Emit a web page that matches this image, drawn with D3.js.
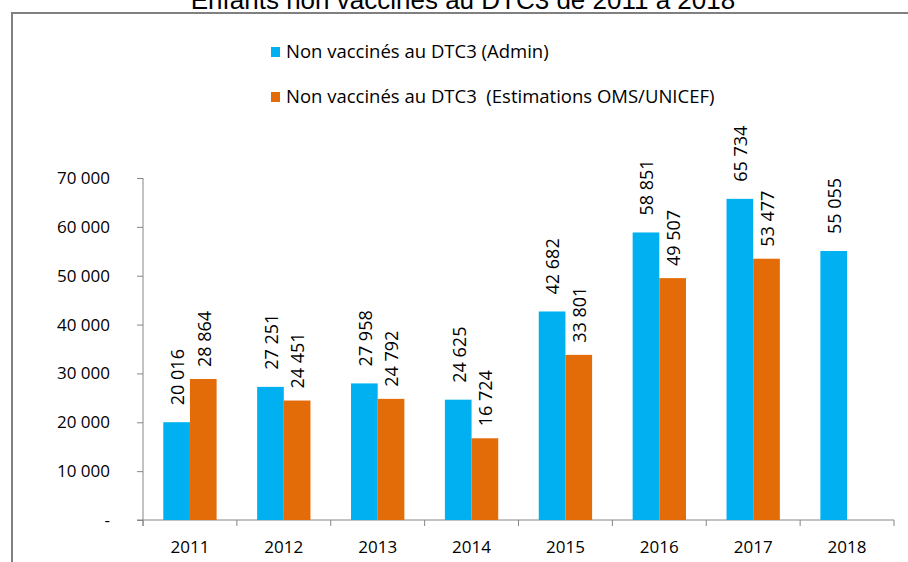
<!DOCTYPE html>
<html>
<head>
<meta charset="utf-8">
<script src="https://cdn.jsdelivr.net/npm/d3@7"></script>
<style>
  body { margin: 0; background: #fff; }
  text { font-family: "Open Sans", sans-serif; }
</style>
</head>
<body>
<div id="vis-container"></div>
<script>
// data
const years = ["2011", "2012", "2013", "2014", "2015", "2016", "2017", "2018"];
const adminValues = [20016, 27251, 27958, 24625, 42682, 58851, 65734, 55055];
const omsValues = [28864, 24451, 24792, 16724, 33801, 49507, 53477, null];
const seriesNames = ["Non vaccinés au DTC3 (Admin)", "Non vaccinés au DTC3  (Estimations OMS/UNICEF)"];
const yTicks = [0, 10000, 20000, 30000, 40000, 50000, 60000, 70000];

const width = 908;
const height = 562;
const margin = { top: 178, right: 14, bottom: 42, left: 143 };
const colors = ["#00b0f0", "#e36c09"];

const svg = d3.select("#vis-container")
    .append("svg")
    .attr("width", width)
    .attr("height", height);

// frame (only top and left edges show in the picture)
svg.append("path")
    .attr("d", `M12,${height} V13 H${width}`)
    .attr("fill", "none")
    .attr("stroke", "#808080")
    .attr("stroke-width", 2);

// title, cut off by the top edge like in the source
svg.append("text")
    .attr("x", 463)
    .attr("y", 9)
    .attr("text-anchor", "middle")
    .style("font-family", "'Liberation Sans', Arial, sans-serif")
    .style("font-size", "26px")
    .attr("fill", "#000")
    .text("Enfants non vaccinés au DTC3 de 2011 à 2018");

const fr = d3.formatLocale({ decimal: ",", thousands: " ", grouping: [3], currency: ["", ""] });
const fmt = fr.format(",");

let x = d3.scaleBand()
    .domain(years)
    .range([margin.left, width - margin.right])
    .padding(0);

let xs = d3.scaleBand()
    .domain([0, 1])
    .range([0, x.bandwidth()])
    .paddingInner(0)
    .paddingOuter(0.76);

let y = d3.scaleLinear()
    .domain([0, 70000])
    .range([height - margin.bottom, margin.top]);

// y axis
const yAxis = svg.append("g")
    .attr("transform", `translate(${margin.left},0)`)
    .call(d3.axisLeft(y)
        .tickValues(yTicks)
        .tickSize(6)
        .tickPadding(27)
        .tickFormat(d => d === 0 ? "-" : fmt(d)));
yAxis.select(".domain").attr("stroke", "#868686").attr("d", `M0,${y(70000)}V${y(0) + 6}`);
yAxis.selectAll(".tick line").attr("stroke", "#868686");
yAxis.selectAll(".tick text")
    .style("font-size", "17px")
    .attr("fill", "#000");

// x axis, ticks between categories
const xAxis = svg.append("g")
    .attr("transform", `translate(0,${height - margin.bottom})`);
xAxis.append("path")
    .attr("d", `M${margin.left - 6},0H${width - margin.right}`)
    .attr("stroke", "#868686");
xAxis.selectAll(".sep")
    .data(years.concat(["end"]))
    .join("line")
    .attr("x1", (d, i) => margin.left + i * x.step())
    .attr("x2", (d, i) => margin.left + i * x.step())
    .attr("y1", 0)
    .attr("y2", 6)
    .attr("stroke", "#868686");
xAxis.selectAll(".lab")
    .data(years)
    .join("text")
    .attr("x", d => x(d) + x.bandwidth() / 2)
    .attr("y", 33)
    .attr("text-anchor", "middle")
    .style("font-size", "17px")
    .attr("fill", "#000")
    .text(d => d);

// bars
const allSeries = [adminValues, omsValues];
const barData = [];
allSeries.forEach((vals, s) => {
    vals.forEach((v, i) => {
        if (v != null) barData.push({ year: years[i], s: s, value: v });
    });
});

svg.selectAll(".bar")
    .data(barData)
    .join("rect")
    .attr("x", d => x(d.year) + xs(d.s))
    .attr("y", d => y(d.value))
    .attr("width", xs.bandwidth())
    .attr("height", d => y(0) - y(d.value))
    .attr("fill", d => colors[d.s]);

// rotated value labels
const labelGap = [17, 12];
svg.selectAll(".val")
    .data(barData)
    .join("text")
    .attr("transform", d => `translate(${x(d.year) + xs(d.s) + xs.bandwidth() / 2 + 1},${y(d.value) - labelGap[d.s]}) rotate(-90)`)
    .attr("dy", "0.35em")
    .style("font-size", "18px")
    .attr("fill", "#000")
    .text(d => fmt(d.value));

// legend
const legend = svg.selectAll(".leg")
    .data(seriesNames)
    .join("g")
    .attr("transform", (d, i) => `translate(271,${52 + i * 45})`);
legend.append("rect")
    .attr("x", 0)
    .attr("y", -5)
    .attr("width", 9)
    .attr("height", 10)
    .attr("fill", (d, i) => colors[i]);
legend.append("text")
    .attr("x", 15)
    .attr("dy", "0.35em")
    .style("font-size", "18.5px")
    .style("white-space", "pre")
    .attr("fill", "#000")
    .text(d => d);
</script>
</body>
</html>
